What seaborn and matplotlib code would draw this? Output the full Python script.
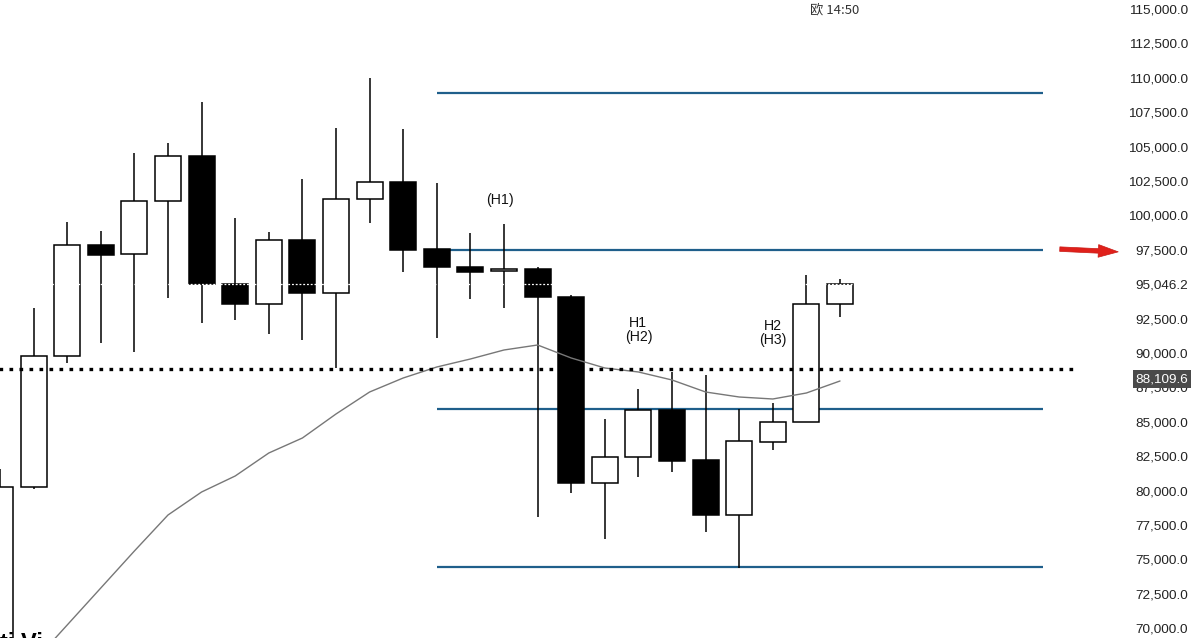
import numpy as np
import pandas as pd
import seaborn as sns
import matplotlib.pyplot as plt
import matplotlib.transforms as mtransforms

# OHLC values, one candle per period
opens = [67500, 80263, 89783, 97850, 97196, 101047, 104318, 95016, 93562, 98213,
         94362, 101193, 102428, 97559, 96251, 95960, 96106, 94071, 80554, 82444,
         85859, 82226, 78229, 83534, 84987, 93562]
highs = [81570, 93271, 99521, 98867, 104536, 105262, 108242, 99812, 98795, 102646,
         106352, 109986, 106280, 102356, 98722, 99376, 96251, 94216, 85205, 87385,
         88621, 88403, 85932, 86368, 95670, 95379]
lows = [67000, 80100, 89275, 90728, 90075, 94000, 92182, 92400, 91382, 90946,
        88911, 99449, 95888, 91091, 93926, 93271, 78084, 79827, 76485, 80991,
        81354, 76994, 74376, 82952, 84987, 92618]
closes = [80264, 89783, 97850, 97123, 101047, 104318, 95016, 93562, 98213, 94362,
          101193, 102428, 97486, 96251, 95888, 96106, 94071, 80554, 82444, 85859,
          82153, 78229, 83607, 84987, 93562, 95046.2]
ma_values = [np.nan, 67550, 70235, 72924, 75613, 78229, 79900, 81063, 82734, 83824,
             85569, 87167, 88185, 88984, 89566, 90220, 90583, 89639, 88912, 88621,
             88040, 87167, 86804, 86659, 87095, 87967]

levels = [108895, 97500, 85930, 74450]
dotted_level = 88840
last_price = 95046.2
marker_price = 88109.6
y_ticks = [70000, 72500, 75000, 77500, 80000, 82500, 85000, 87500, 90000, 92500,
           last_price, 97500, 100000, 102500, 105000, 107500, 110000, 112500, 115000]
notes = ["(H1)", "H1\n(H2)", "H2\n(H3)"]
note_pos = [(14.88, 101120), (19.0, 91680), (23.0, 91460)]

df = pd.DataFrame({"t": np.arange(len(opens)), "open": opens, "high": highs,
                   "low": lows, "close": closes, "ma": ma_values})

sns.set_style("white")
plt.rcParams["font.family"] = ["Liberation Sans", "DejaVu Sans"]

fig = plt.figure(figsize=(12, 6.38), dpi=100)
fig.set_facecolor("white")
ax = fig.add_axes([0, 0, 1110 / 1200, 1])
ax.set_facecolor("white")

# wicks then bodies
ax.vlines(df["t"], df["low"], df["high"], color="black", lw=1.1, zorder=2)
up = df["close"] >= df["open"]
body_lo = df[["open", "close"]].min(axis=1)
body_h = (df["close"] - df["open"]).abs()
ax.bar(df["t"][up], body_h[up], bottom=body_lo[up], width=0.77,
       facecolor="white", edgecolor="black", lw=1.1, zorder=3)
ax.bar(df["t"][~up], body_h[~up], bottom=body_lo[~up], width=0.77,
       facecolor="black", edgecolor="black", lw=1.1, zorder=3)

sns.lineplot(data=df, x="t", y="ma", color="#777777", lw=1.0, ax=ax, zorder=4)

for lv in levels:
    ax.hlines(lv, 13, 31.05, color="#1f5f8b", lw=1.6, zorder=1)
ax.hlines(dotted_level, -1, 32.0, color="black", lw=2.4,
          linestyles=[(0, (1.1, 1.9))], zorder=5)
ax.hlines(last_price, -1, 33, color="white", lw=0.9,
          linestyles=[(0, (1.5, 1.5))], zorder=6)

for txt, (x, y) in zip(notes, note_pos):
    ax.text(x, y, txt, ha="center", va="center", fontsize=10.2,
            linespacing=1.0, color="#111111")

ax.text(24.85, 114930, "欧 14:50", ha="center", va="center", fontsize=9.5,
        color="#333333", family=["Noto Sans CJK SC", "DejaVu Sans"])

ax.set_xlim(0, 1110 / 33.6)
ax.set_ylim(69290, 115654)
ax.set_xlabel("")
ax.set_ylabel("")
ax.set_xticks([])
ax.yaxis.tick_right()
ax.set_yticks(y_ticks)
ax.set_yticklabels([f"{v:,.1f}" for v in y_ticks], fontsize=9.7, color="#222222")
for lab in ax.get_yticklabels():
    lab.set_horizontalalignment("right")
ax.tick_params(axis="y", length=0, pad=56)
for s in ax.spines.values():
    s.set_visible(False)

trans = mtransforms.blended_transform_factory(ax.transAxes, ax.transData)
ax.text(1188 / 1110, marker_price, f"{marker_price:,.1f}", transform=trans,
        ha="right", va="center", fontsize=9.7, color="white", zorder=10,
        clip_on=False,
        bbox=dict(boxstyle="square,pad=0.2", facecolor="#4a4a4a", edgecolor="none"))

ax.annotate("", xy=(1121 / 1110, 97342), xytext=(1057 / 1110, 97560),
            xycoords=trans, textcoords=trans, annotation_clip=False,
            arrowprops=dict(arrowstyle="simple,head_width=0.7,head_length=1.1,tail_width=0.25",
                            mutation_scale=13, facecolor="#e0201b", edgecolor="#c81a15", lw=0.5))

fig.text(0.0, 6 / 638, "ti Vi", ha="left", va="top", fontsize=17,
         fontweight="bold", color="black")

fig.savefig("out.png", dpi=100, facecolor="white")
